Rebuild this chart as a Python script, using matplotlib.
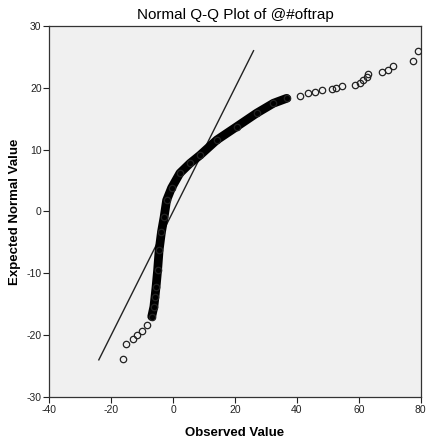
import numpy as np
import matplotlib.pyplot as plt

plt.rcParams['font.family'] = ['Liberation Sans', 'DejaVu Sans']
plt.rcParams['axes.unicode_minus'] = False

observed = [-16.2, -15.2, -12.9, -11.8, -10.1, -8.5, -6.9, -6.2, -5.85, -5.5,
            -5.0, -4.5, -3.75, -2.9, -2.1, -0.5, 2.2, 5.5, 8.7, 14.1,
            20.5, 27.0, 32.4, 36.7, 41.0, 43.7, 45.8, 48.0, 51.2, 52.6,
            54.5, 58.8, 60.4, 61.5, 62.6, 63.1, 67.4, 69.3, 71.1, 77.6, 79.0]
expected = [-23.9, -21.5, -20.6, -20.0, -19.35, -18.4, -17.0, -15.4, -13.8, -12.2,
            -9.5, -6.2, -3.3, -0.9, 1.8, 3.8, 6.2, 7.8, 9.1, 11.55,
            13.7, 15.9, 17.5, 18.3, 18.7, 19.2, 19.4, 19.6, 19.8, 19.9,
            20.3, 20.45, 20.8, 21.3, 21.8, 22.2, 22.5, 22.9, 23.5, 24.3, 26.0]
# where the circles pile up into a solid band
dense_start, dense_end = 6, 24
ref_line = [-24, 26]

xticks = [-40, -20, 0, 20, 40, 60, 80]
yticks = [-30, -20, -10, 0, 10, 20, 30]

fig = plt.figure(figsize=(4.26, 4.45), dpi=100)
ax = fig.add_axes([0.1157, 0.108, 0.8718, 0.8336])
ax.set_facecolor('#f0f0f0')

ax.plot(ref_line, ref_line, color='#222222', lw=1.0, zorder=2)
ax.plot(observed[dense_start:dense_end], expected[dense_start:dense_end],
        color='black', lw=6.3, solid_capstyle='round', solid_joinstyle='round', zorder=3)
ax.plot(observed, expected, 'o', ms=4.6, mfc='none', mec='#222222', mew=0.9, zorder=4)

ax.set_xlim(-40, 80)
ax.set_ylim(-30, 30)
ax.set_xticks(xticks)
ax.set_yticks(yticks)
ax.tick_params(direction='out', length=4, width=0.8, labelsize=7.5, pad=1.5, colors='#222222')
for s in ax.spines.values():
    s.set_color('#333333')
    s.set_linewidth(0.9)

ax.set_title('Normal Q-Q Plot of @#oftrap', fontsize=11, pad=5)
ax.set_xlabel('Observed Value', fontsize=9.5, fontweight='bold', labelpad=9)
ax.set_ylabel('Expected Normal Value', fontsize=9.5, fontweight='bold', labelpad=4)

fig.savefig('out.png', dpi=100)
